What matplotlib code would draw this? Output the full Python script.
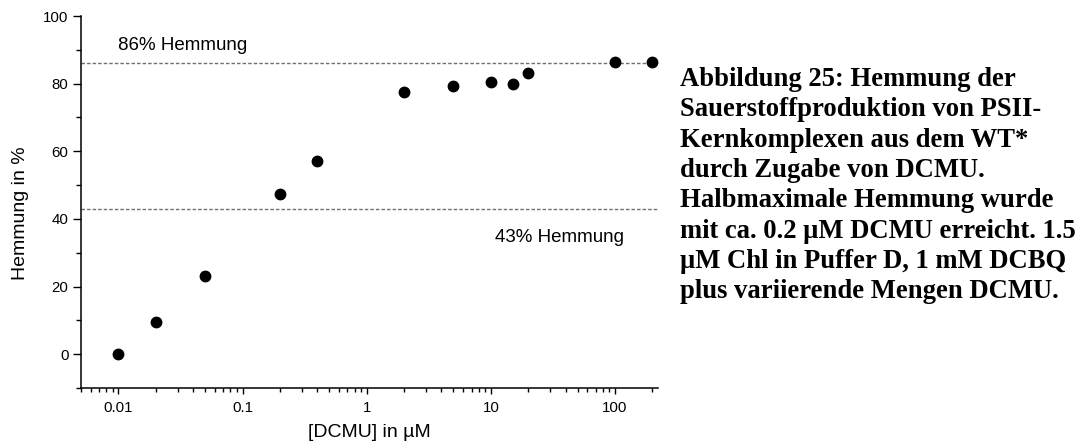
import matplotlib
matplotlib.use('Agg')
import matplotlib.pyplot as plt
from matplotlib.ticker import FixedLocator, LogLocator, MultipleLocator, FuncFormatter, NullFormatter

# DCMU concentration (uM) and inhibition (%)
dcmu = [0.01, 0.02, 0.05, 0.2, 0.4, 2, 5, 10, 15, 20, 100, 200]
hemmung = [0.0, 9.5, 23.0, 47.5, 57.2, 77.5, 79.2, 80.4, 79.8, 83.2, 86.4, 86.4]

level_max = 86
level_half = 43
x_ticks = [0.01, 0.1, 1, 10, 100]
y_ticks = [0, 20, 40, 60, 80, 100]

caption = ("Abbildung 25: Hemmung der\n"
           "Sauerstoffproduktion von PSII-\n"
           "Kernkomplexen aus dem WT*\n"
           "durch Zugabe von DCMU.\n"
           "Halbmaximale Hemmung wurde\n"
           "mit ca. 0.2 \u00b5M DCMU erreicht. 1.5\n"
           "\u00b5M Chl in Puffer D, 1 mM DCBQ\n"
           "plus variierende Mengen DCMU.")

plt.rcParams['font.family'] = ['Liberation Sans', 'DejaVu Sans']

fig = plt.figure(figsize=(10.83, 4.46), dpi=100)
ax = fig.add_axes([81 / 1083, 1 - 388 / 446, (658 - 81) / 1083, (388 - 16) / 446])

# reference levels
ax.axhline(level_max, color='#707070', lw=1.0, ls=(0, (2.5, 1.5)), zorder=1)
ax.axhline(level_half, color='#707070', lw=1.0, ls=(0, (2.5, 1.5)), zorder=1)

ax.plot(dcmu, hemmung, 'o', color='black', ms=7.5, zorder=3)

ax.text(0.01, 91.2, '86% Hemmung', fontsize=13.5, va='center', ha='left')
ax.text(10.8, 34.6, '43% Hemmung', fontsize=13.5, va='center', ha='left')

ax.set_xscale('log')
ax.set_xlim(0.005, 222)
ax.set_ylim(-10, 100)

ax.xaxis.set_major_locator(FixedLocator(x_ticks))
ax.xaxis.set_major_formatter(FuncFormatter(lambda v, p: '%g' % v))
ax.xaxis.set_minor_locator(LogLocator(base=10, subs=range(2, 10), numticks=20))
ax.xaxis.set_minor_formatter(NullFormatter())
ax.yaxis.set_major_locator(FixedLocator(y_ticks))
ax.yaxis.set_minor_locator(MultipleLocator(10))

for side in ['top', 'right']:
    ax.spines[side].set_visible(False)
for side in ['left', 'bottom']:
    ax.spines[side].set_linewidth(1.1)

ax.tick_params(axis='y', which='major', length=6, width=1, labelsize=10.8, pad=3)
ax.tick_params(axis='y', which='minor', length=3.5, width=1)
ax.tick_params(axis='x', which='major', length=4.5, width=1, labelsize=10.8, pad=5)
ax.tick_params(axis='x', which='minor', length=3, width=1)

ax.set_xlabel('[DCMU] in \u00b5M', fontsize=14, labelpad=6)
ax.set_ylabel('Hemmung in %', fontsize=14)
ax.yaxis.set_label_coords(-0.09, 0.47)

fig.text(680 / 1083, 1 - 67 / 446, caption, fontsize=19.2, fontweight='bold',
         family='Liberation Serif', va='top', ha='left', linespacing=1.28)

fig.savefig('out.png', dpi=100)
